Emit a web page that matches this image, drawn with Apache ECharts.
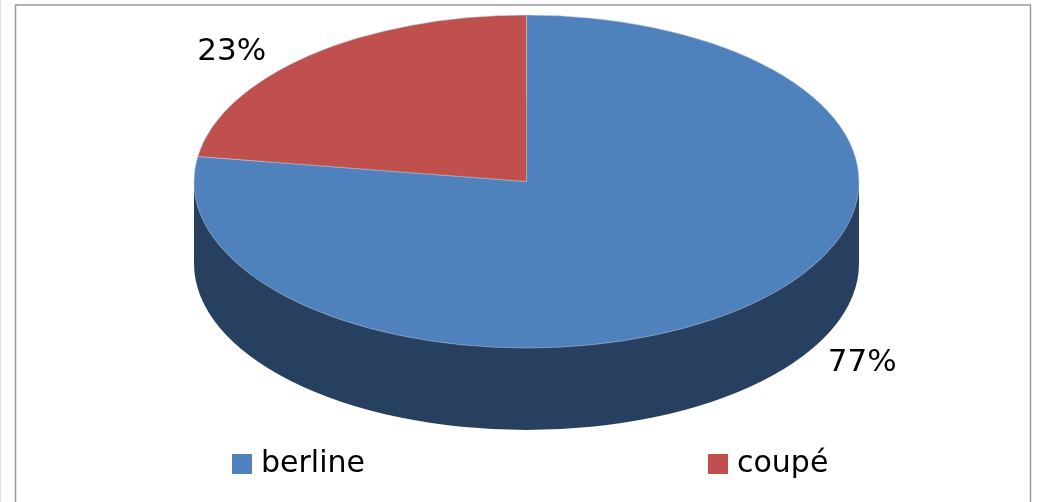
<!DOCTYPE html>
<html>
<head>
<meta charset="utf-8">
<style>html,body{margin:0;padding:0;background:#fff}#c{width:1041px;height:502px}</style>
<script src="https://cdn.jsdelivr.net/npm/echarts@6/dist/echarts.min.js"></script>
</head>
<body>
<div id="c"></div>
<script>
const categories = ['berline', 'coupé'];
const sliceValues = [77.4, 22.6];
const sliceColors = ['#4f81bd', '#c0504d'];
const wallColor = '#28405f';

const font = '"DejaVu Sans", Verdana, sans-serif';
const cx = 526.5, cy = 181.5, rx = 332.5, ry = 166.5, depth = 82;
const labelOffsets = [[119, 55], [-78, -3]];

const total = sliceValues.reduce((a, b) => a + b, 0);
function sliceAngles(i) {
  let before = 0;
  for (let k = 0; k < i; k++) before += sliceValues[k];
  const start = -Math.PI / 2 + before / total * 2 * Math.PI;
  return [start, start + sliceValues[i] / total * 2 * Math.PI];
}

function renderSlice(i) {
  return function () {
    const [a0, a1] = sliceAngles(i);
    const mid = (a0 + a1) / 2;
    const pct = Math.round(sliceValues[i] / total * 100) + '%';
    return {
      type: 'group',
      children: [
        {
          type: 'group', x: cx, y: cy, scaleY: ry / rx,
          children: [{
            type: 'sector',
            shape: { cx: 0, cy: 0, r0: 0, r: rx, startAngle: a0, endAngle: a1, clockwise: true },
            style: { fill: sliceColors[i], stroke: 'rgba(190,205,225,0.7)', lineWidth: 1 }
          }]
        },
        {
          type: 'text',
          x: cx + rx * Math.cos(mid) + labelOffsets[i][0],
          y: cy + ry * Math.sin(mid) + labelOffsets[i][1],
          style: {
            text: pct, fill: '#000', font: '31px ' + font,
            align: 'center', verticalAlign: 'middle'
          }
        }
      ]
    };
  };
}

function renderWall() {
  return {
    type: 'group',
    children: [
      { type: 'rect', shape: { x: cx - rx, y: cy, width: 2 * rx, height: depth }, style: { fill: wallColor } },
      {
        type: 'group', x: cx, y: cy + depth, scaleY: ry / rx,
        children: [{ type: 'circle', shape: { cx: 0, cy: 0, r: rx }, style: { fill: wallColor } }]
      }
    ]
  };
}

const frameLine = { stroke: '#9a9a9a', lineWidth: 1.5 };
const chart = echarts.init(document.getElementById('c'), null, { renderer: 'canvas' });
chart.setOption({
  animation: false,
  backgroundColor: '#ffffff',
  legend: {
    left: 232, top: 449, padding: 0, itemWidth: 20, itemHeight: 20, itemGap: 343,
    icon: 'rect',
    data: categories,
    selectedMode: false,
    textStyle: { fontFamily: font, fontSize: 30, color: '#000', padding: [0, 0, 0, 4] }
  },
  graphic: [
    { type: 'line', shape: { x1: 15.5, y1: 5, x2: 15.5, y2: 502 }, style: frameLine },
    { type: 'line', shape: { x1: 15, y1: 5, x2: 1031, y2: 5 }, style: frameLine },
    { type: 'line', shape: { x1: 1030.5, y1: 5, x2: 1030.5, y2: 502 }, style: frameLine },
    { type: 'line', shape: { x1: 0.5, y1: 0, x2: 0.5, y2: 502 }, style: { stroke: '#e2e2e2', lineWidth: 1 } }
  ],
  series: [
    { type: 'custom', name: 'wall', coordinateSystem: 'none', silent: true, data: [0], renderItem: renderWall },
    ...categories.map((name, i) => ({
      type: 'custom', name, coordinateSystem: 'none', silent: true,
      itemStyle: { color: sliceColors[i] },
      data: [sliceValues[i]],
      renderItem: renderSlice(i)
    }))
  ]
});
</script>
</body>
</html>
